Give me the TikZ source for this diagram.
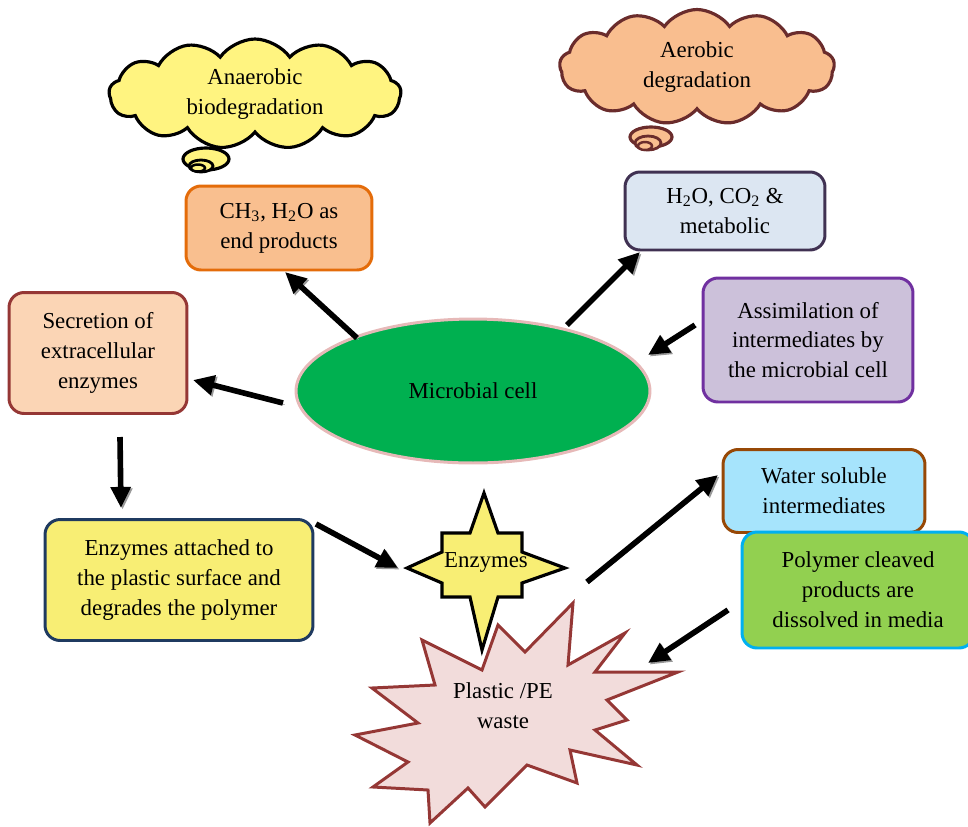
\documentclass[tikz,border=0pt]{standalone}
\usepackage{fontspec}
\setmainfont{Liberation Serif}
\usetikzlibrary{shapes.geometric,shapes.symbols,arrows.meta}

\definecolor{cloudyel}{HTML}{FFF480}
\definecolor{cloudorg}{HTML}{F9BE8F}
\definecolor{cloudbrn}{HTML}{6A2C2C}
\definecolor{endfill}{HTML}{F9BF8F}
\definecolor{enddraw}{HTML}{E46C0A}
\definecolor{metfill}{HTML}{DCE6F2}
\definecolor{metdraw}{HTML}{403152}
\definecolor{assfill}{HTML}{CCC1DA}
\definecolor{assdraw}{HTML}{7030A0}
\definecolor{secfill}{HTML}{FBD5B5}
\definecolor{secdraw}{HTML}{953735}
\definecolor{attfill}{HTML}{F8EE74}
\definecolor{attdraw}{HTML}{1F3A60}
\definecolor{solfill}{HTML}{A6E4FC}
\definecolor{soldraw}{HTML}{974806}
\definecolor{polfill}{HTML}{92D050}
\definecolor{poldraw}{HTML}{00B0F0}
\definecolor{cellfill}{HTML}{00B050}
\definecolor{celldraw}{HTML}{E6B9B8}
\definecolor{wastefill}{HTML}{F2DCDB}

\tikzset{
  lbl/.style={align=center,font=\fontsize{13pt}{17pt}\selectfont},
  box/.style={lbl,draw,line width=1.7pt,rounded corners=0.3cm,inner sep=0pt},
  puff/.style={lbl,cloud,cloud puffs=13,cloud puff arc=110,aspect=2.4,draw,line width=1.8pt,inner sep=0pt},
  flow/.style={line width=3.2pt,-{Triangle[length=12pt,width=11pt]},
    preaction={draw=black!40,transform canvas={shift={(0.9pt,-0.9pt)}}}}
}

\begin{document}
\begin{tikzpicture}[x=0.02cm,y=-0.02cm]

\useasboundingbox (0,0) rectangle (968,826);

%%%%%%%%%%%%%%%%%%%%%%%%
% thought clouds
%%%%%%%%%%%%%%%%%%%%%%%%

\node(anaer)[puff,fill=cloudyel,minimum width=5.84cm,minimum height=2.2cm] at (255,94) {Anaerobic\\biodegradation};
\filldraw[fill=cloudyel,line width=1.8pt] (206,159) ellipse [x radius=0.46cm,y radius=0.22cm];
\filldraw[fill=cloudyel,line width=1.6pt] (201,166) ellipse [x radius=0.24cm,y radius=0.12cm];
\filldraw[fill=cloudyel,line width=1.4pt] (198,168) ellipse [x radius=0.14cm,y radius=0.07cm];

\node(aer)[puff,fill=cloudorg,draw=cloudbrn,minimum width=5.5cm,minimum height=2.3cm] at (697,67) {Aerobic\\degradation};
\filldraw[fill=cloudorg,draw=cloudbrn,line width=1.8pt] (651,137) ellipse [x radius=0.42cm,y radius=0.2cm];
\filldraw[fill=cloudorg,draw=cloudbrn,line width=1.6pt] (648,143) ellipse [x radius=0.26cm,y radius=0.14cm];
\filldraw[fill=cloudorg,draw=cloudbrn,line width=1.4pt] (645,146) ellipse [x radius=0.14cm,y radius=0.08cm];

%%%%%%%%%%%%%%%%%%%%%%%%
% boxes
%%%%%%%%%%%%%%%%%%%%%%%%

\node(endp)[box,fill=endfill,draw=enddraw,minimum width=3.72cm,minimum height=1.68cm] at (279,228) {CH\textsubscript{3}, H\textsubscript{2}O as\\end products};
\node(metab)[box,fill=metfill,draw=metdraw,minimum width=4.0cm,minimum height=1.56cm] at (725,211) {H\textsubscript{2}O, CO\textsubscript{2} \&\\metabolic};
\node(assim)[box,fill=assfill,draw=assdraw,minimum width=4.2cm,minimum height=2.48cm] at (808,340) {Assimilation of\\intermediates by\\the microbial cell};
\node(secr)[box,fill=secfill,draw=secdraw,minimum width=3.56cm,minimum height=2.42cm] at (98,353) {Secretion of\\extracellular\\enzymes};
\node(attach)[box,fill=attfill,draw=attdraw,minimum width=5.36cm,minimum height=2.42cm] at (179,580) {Enzymes attached to\\the plastic surface and\\degrades the polymer};
\node(solub)[box,fill=solfill,draw=soldraw,minimum width=4.04cm,minimum height=1.66cm] at (824,491) {Water soluble\\intermediates};
\node(cleav)[box,fill=polfill,draw=poldraw,minimum width=4.64cm,minimum height=2.32cm] at (858,590) {Polymer cleaved\\products are\\dissolved in media};

%%%%%%%%%%%%%%%%%%%%%%%%
% cell, enzymes, waste
%%%%%%%%%%%%%%%%%%%%%%%%

\node(cell)[ellipse,lbl,fill=cellfill,draw=celldraw,line width=1.7pt,minimum width=7.08cm,minimum height=2.88cm] at (473,391) {Microbial cell};

\filldraw[fill=wastefill,draw=secdraw,line width=1.7pt]
  (573,603) -- (568,665) -- (625,633) -- (595,672) -- (678,672) -- (607,700)
  -- (627,720) -- (595,730) -- (637,765) -- (570,750) -- (577,783) -- (527,765)
  -- (485,807) -- (468,788) -- (430,823) -- (428,790) -- (373,787) -- (408,762)
  -- (355,735) -- (418,723) -- (372,688) -- (435,685) -- (422,640) -- (482,670)
  -- (498,625) -- (525,652) -- cycle;
\node(waste)[lbl] at (503,706) {Plastic /PE\\waste};

\filldraw[fill=attfill,line width=1.8pt]
  (484,493) -- (498,533) -- (522,533) -- (522,552) -- (565,568) -- (522,583)
  -- (522,597) -- (498,597) -- (482,650) -- (470,597) -- (442,597) -- (442,583)
  -- (407,568) -- (442,552) -- (442,533) -- (470,533) -- cycle;
\node(enz)[lbl] at (486,562) {Enzymes};

%%%%%%%%%%%%%%%%%%%%%%%%
% arrows
%%%%%%%%%%%%%%%%%%%%%%%%

\coordinate(c1) at (357,338);
\coordinate(e1) at (285,272);
\coordinate(c2) at (283,403);
\coordinate(e2) at (193,380);
\coordinate(c3) at (567,325);
\coordinate(e3) at (640,252);
\coordinate(a4) at (695,325);
\coordinate(e4) at (648,355);
\coordinate(s5) at (120,437);
\coordinate(e5) at (121,508);
\coordinate(s6) at (316,524);
\coordinate(e6) at (398,568);
\coordinate(s7) at (587,582);
\coordinate(e7) at (718,475);
\coordinate(s8) at (728,610);
\coordinate(e8) at (648,663);

\draw[flow] (c1) -- (e1);
\draw[flow] (c2) -- (e2);
\draw[flow] (c3) -- (e3);
\draw[flow] (a4) -- (e4);
\draw[flow] (s5) -- (e5);
\draw[flow] (s6) -- (e6);
\draw[flow] (s7) -- (e7);
\draw[flow] (s8) -- (e8);

\end{tikzpicture}
\end{document}
